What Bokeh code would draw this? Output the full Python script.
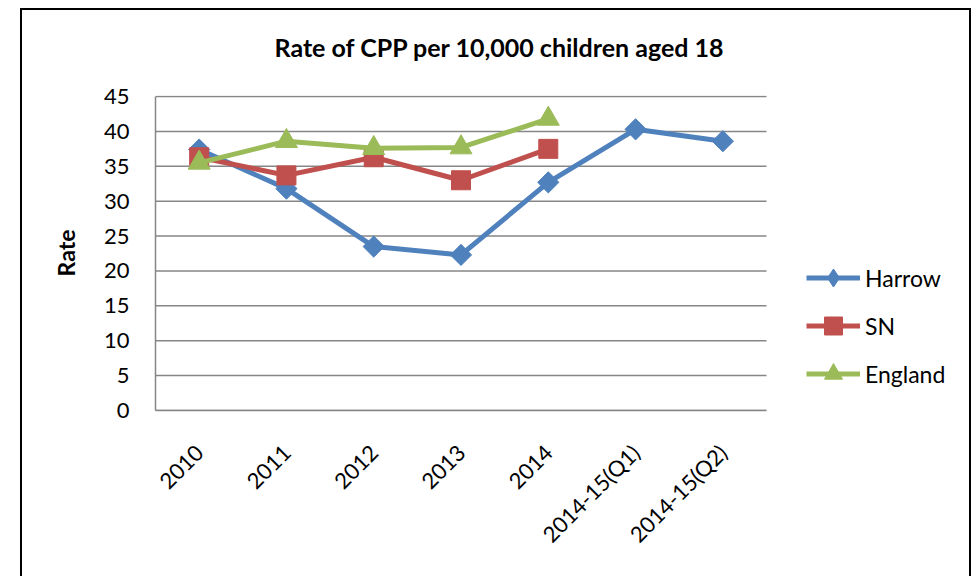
import math
from bokeh.plotting import figure
from bokeh.models import Range1d, FixedTicker, Legend
from bokeh.embed import file_html
from bokeh.resources import INLINE

categories = ["2010", "2011", "2012", "2013", "2014", "2014-15(Q1)", "2014-15(Q2)"]
harrow = [37.4, 31.8, 23.5, 22.3, 32.7, 40.3, 38.6]
sn = [36.3, 33.7, 36.3, 33.0, 37.5]
england = [35.5, 38.6, 37.6, 37.7, 41.8]
y_ticks = [0, 5, 10, 15, 20, 25, 30, 35, 40, 45]

FONT = "Lato"
GRID = "#868686"
TXT = "#000000"

W, H = 951, 568
MBL, MBR, MBT, MBB = 133, 5, 85, 168
cat_px = 611 / len(categories)          # width of one category slot
frame_w = W - MBL - MBR
x_idx = list(range(len(categories)))

p = figure(
    x_range=Range1d(-0.5, -0.5 + frame_w / cat_px),
    y_range=Range1d(0, 45.15),
    width=W, height=H,
    output_backend="svg", toolbar_location=None,
    min_border_left=MBL, min_border_right=MBR,
    min_border_top=MBT, min_border_bottom=MBB,
)
p.margin = (8, 0, 0, 20)
p.styles = {"border-top": "2px solid black", "border-left": "2px solid black",
            "border-right": "2px solid black"}

p.title.text = "Rate of CPP per 10,000 children aged 18\n"
p.title.text_font = FONT
p.title.text_font_size = "25px"
p.title.text_font_style = "bold"
p.title.text_color = TXT
p.title.align = "left"
p.title.offset = 119
p.title.standoff = 8

p.outline_line_color = None
p.xgrid.grid_line_color = None
p.ygrid.grid_line_color = None

# horizontal gridlines only across the category area
p.segment(x0=[x_idx[0] - 0.5] * len(y_ticks), x1=[x_idx[-1] + 0.5] * len(y_ticks),
          y0=y_ticks, y1=y_ticks, line_color=GRID, line_width=1.5)

p.yaxis.ticker = FixedTicker(ticks=y_ticks)
p.yaxis.axis_line_color = GRID
p.yaxis.axis_line_width = 1.5
p.yaxis.bounds = (0, 45)
p.yaxis.major_tick_line_color = None
p.yaxis.minor_tick_line_color = None
p.yaxis.major_label_text_font = FONT
p.yaxis.major_label_text_font_size = "22px"
p.yaxis.major_label_text_color = TXT
p.yaxis.major_label_standoff = 20
p.yaxis.axis_label = "Rate"
p.yaxis.axis_label_text_font = FONT
p.yaxis.axis_label_text_font_size = "23px"
p.yaxis.axis_label_text_font_style = "bold"
p.yaxis.axis_label_text_color = TXT
p.yaxis.axis_label_standoff = 21

p.xaxis.ticker = FixedTicker(ticks=x_idx)
p.xaxis.major_label_overrides = {i: c for i, c in zip(x_idx, categories)}
p.xaxis.bounds = (x_idx[0] - 0.5, x_idx[-1] + 0.5)
p.xaxis.axis_line_color = GRID
p.xaxis.axis_line_width = 1.5
p.xaxis.major_tick_line_color = None
p.xaxis.minor_tick_line_color = None
p.xaxis.major_label_orientation = math.pi / 4
p.xaxis.major_label_text_font = FONT
p.xaxis.major_label_text_font_size = "22px"
p.xaxis.major_label_text_color = TXT
p.xaxis.major_label_standoff = 32

series = [
    ("Harrow", harrow, "#4F81BD", "square", 15, math.pi / 4, "diamond"),
    ("SN", sn, "#C0504D", "square", 19, 0, "square"),
    ("England", england, "#9BBB59", "triangle", 22, 0, "triangle"),
]
items = []
for name, vals, color, marker, size, ang, leg_marker in series:
    xs = x_idx[:len(vals)]
    r1 = p.line(xs, vals, line_color=color, line_width=5)
    if leg_marker != marker:
        # narrow diamond hidden under the rotated square; shown in the legend
        r3 = p.scatter(xs, vals, marker=leg_marker, size=19,
                       fill_color=color, line_color=color)
    r2 = p.scatter(xs, vals, marker=marker, size=size, angle=ang,
                   fill_color=color, line_color=color)
    items.append((name, [r1, r3 if leg_marker != marker else r2]))

legend = Legend(items=items, location=(651, 14), orientation="vertical")
legend.padding = 0
legend.margin = 0
legend.border_line_color = None
legend.background_fill_alpha = 0
legend.glyph_width = 54
legend.glyph_height = 45
legend.label_height = 45
legend.spacing = 3
legend.label_standoff = 5
legend.label_text_font = FONT
legend.label_text_font_size = "23px"
legend.label_text_color = TXT
p.add_layout(legend, "center")

open("out.html", "w").write(file_html(p, INLINE))
